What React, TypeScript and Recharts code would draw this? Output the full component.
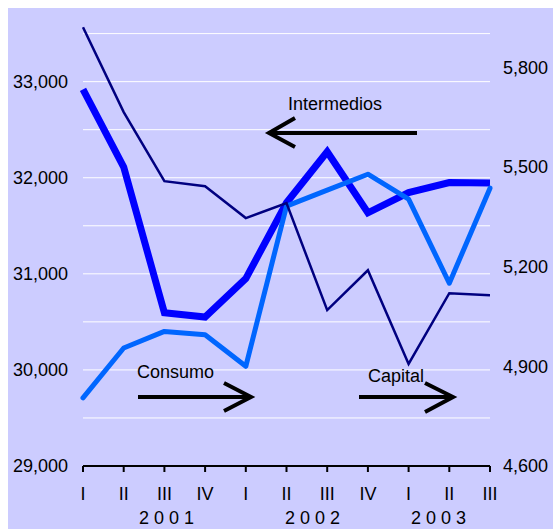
import React from 'react';
import { LineChart, Line, XAxis, YAxis, ReferenceLine } from 'recharts';

const quarters = ['I', 'II', 'III', 'IV', 'I', 'II', 'III', 'IV', 'I', 'II', 'III'];
const intermedios = [32920, 32110, 30595, 30550, 30950, 31740, 32270, 31635, 31845, 31950, 31945];
const consumo = [4805, 4955, 5005, 4995, 4900, 5382, 5430, 5478, 5403, 5150, 5436];
const capital = [5920, 5665, 5457, 5442, 5346, 5391, 5069, 5189, 4907, 5120, 5114];
const leftTicks = [29000, 30000, 31000, 32000, 33000];
const rightTicks = [4600, 4900, 5200, 5500, 5800];
const gridValues = [29500, 30000, 30500, 31000, 31500, 32000, 32500, 33000, 33500];
const years = [
  { label: '2 0 0 1', index: 2, shift: 2 },
  { label: '2 0 0 2', index: 5, shift: 26 },
  { label: '2 0 0 3', index: 8, shift: 30 },
];

const data = quarters.map((q, i) => ({
  key: `${i}`,
  q,
  intermedios: intermedios[i],
  consumo: consumo[i],
  capital: capital[i],
}));

const FONT = 'Arial, "Liberation Sans", sans-serif';
const fmt = (v: number) => v.toLocaleString('en-US');

const XTick = (props: any) => {
  const { x, y, index } = props;
  const yr = years.find((yy) => yy.index === index);
  return (
    <g>
      <text x={x} y={y} dy={12.5} textAnchor="middle" fontSize={18} fontFamily={FONT} fill="#000">
        {quarters[index]}
      </text>
      {yr && (
        <text x={x + yr.shift} y={y} dy={36.5} textAnchor="middle" fontSize={18} fontFamily={FONT} fill="#000">
          {yr.label}
        </text>
      )}
    </g>
  );
};

export default function App() {
  return (
    <div style={{ position: 'fixed', left: 8, top: 8, width: 545, height: 521, background: '#CCCCFF' }}>
      <LineChart
        width={545}
        height={521}
        data={data}
        margin={{ top: 16, right: 0, bottom: 0, left: 0 }}
      >
        {gridValues.map((v) => (
          <ReferenceLine key={v} yAxisId="left" y={v} stroke="#FFFFFF" strokeWidth={1} ifOverflow="extendDomain" />
        ))}
        <XAxis
          dataKey="key"
          scale="point"
          height={63}
          axisLine={{ stroke: '#000', strokeWidth: 2 }}
          tickLine={{ stroke: '#000', strokeWidth: 2 }}
          tickSize={6}
          tickMargin={15}
          interval={0}
          tick={<XTick />}
        />
        <YAxis
          yAxisId="left"
          domain={[29000, 33600]}
          ticks={leftTicks}
          width={75}
          axisLine={false}
          tickLine={false}
          tickSize={6}
          tickMargin={9}
          tickFormatter={fmt}
          tick={{ fontSize: 18, fontFamily: FONT, fill: '#000' }}
        />
        <YAxis
          yAxisId="right"
          orientation="right"
          domain={[4600, 5930]}
          ticks={rightTicks}
          width={63}
          axisLine={false}
          tickLine={false}
          tickSize={6}
          tickMargin={7}
          tickFormatter={fmt}
          tick={{ fontSize: 18, fontFamily: FONT, fill: '#000', textAnchor: 'start' }}
        />
        <Line
          yAxisId="left"
          dataKey="intermedios"
          stroke="#0000FF"
          strokeWidth={7}
          dot={false}
          type="linear"
          isAnimationActive={false}
        />
        <Line
          yAxisId="right"
          dataKey="consumo"
          stroke="#0066FF"
          strokeWidth={5}
          strokeLinejoin="round"
          strokeLinecap="round"
          dot={false}
          type="linear"
          isAnimationActive={false}
        />
        <Line
          yAxisId="right"
          dataKey="capital"
          stroke="#000080"
          strokeWidth={2.5}
          dot={false}
          type="linear"
          isAnimationActive={false}
        />
      </LineChart>
      <svg
        width={545}
        height={521}
        style={{ position: 'absolute', left: 0, top: 0, pointerEvents: 'none' }}
      >
        <g fontFamily={FONT} fontSize={18} fill="#000">
          <text x={280} y={102}>Intermedios</text>
          <text x={129} y={370}>Consumo</text>
          <text x={360} y={374}>Capital</text>
        </g>
        <g stroke="#000" strokeWidth={4} fill="none" strokeLinecap="butt">
          <line x1={409} y1={125} x2={261} y2={125} />
          <polyline points="287,110 261,125 287,139" />
          <line x1={130} y1={389} x2={243} y2={389} />
          <polyline points="216,375 243,389 216,403" />
          <line x1={351} y1={389} x2={445} y2={389} />
          <polyline points="417,375 445,389 417,404" />
        </g>
      </svg>
    </div>
  );
}
